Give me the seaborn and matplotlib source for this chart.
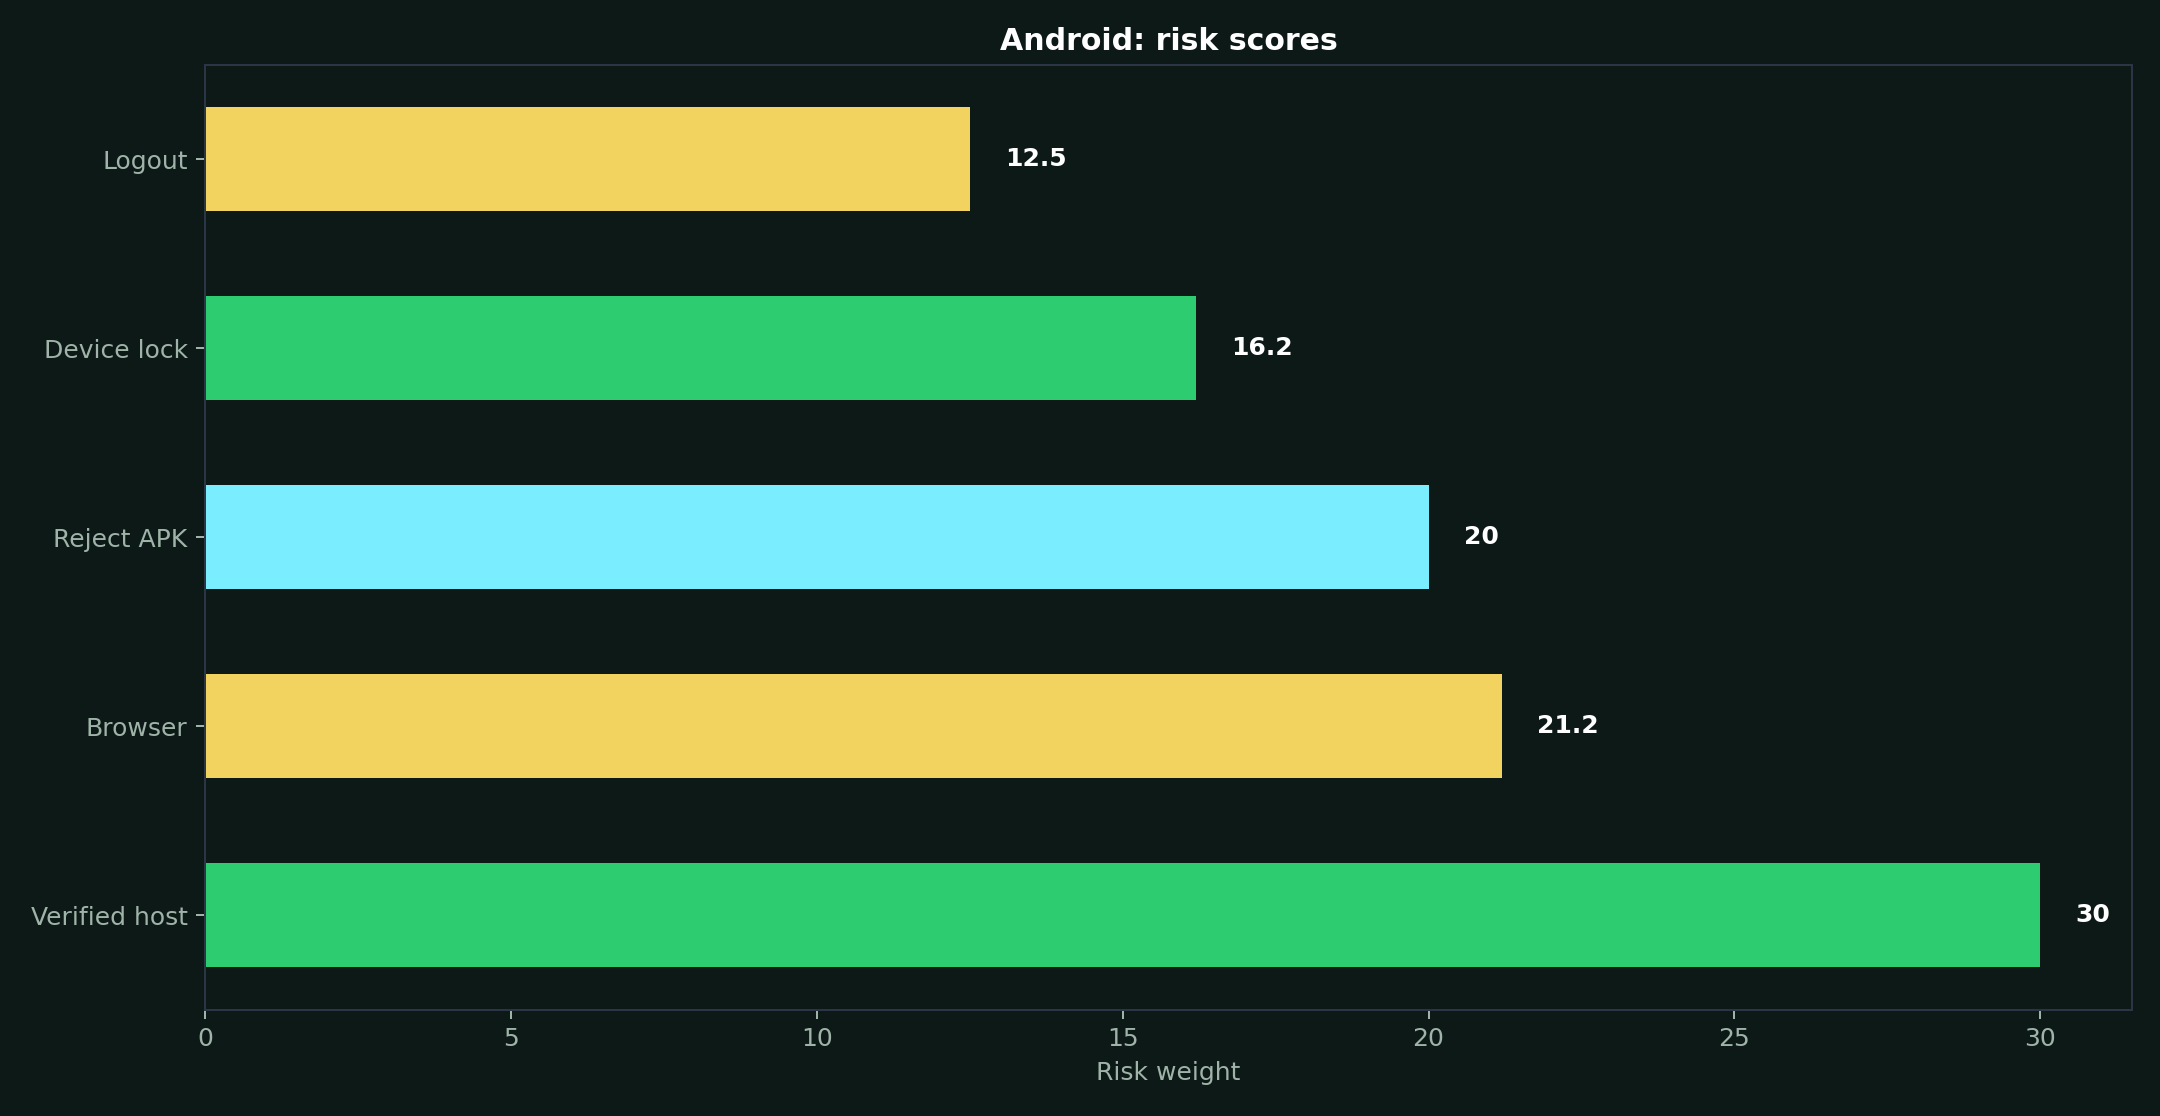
import matplotlib
matplotlib.use("Agg")
import matplotlib.pyplot as plt
import seaborn as sns
import pandas as pd

# Data
checks = ["Logout", "Device lock", "Reject APK", "Browser", "Verified host"]
scores = [12.5, 16.2, 20, 21.2, 30]
bar_colors = ["#f2d35f", "#2ecc71", "#7aeefe", "#f2d35f", "#2ecc71"]

bg = "#0c1917"
edge = "#2a3545"
muted = "#9fb3a8"

df = pd.DataFrame({"check": checks, "score": scores})

sns.set_theme(style="dark")
plt.rcParams["font.family"] = ["DejaVu Sans"]

fig, ax = plt.subplots(figsize=(12, 6.2), dpi=180)
fig.patch.set_facecolor(bg)
ax.set_facecolor(bg)

sns.barplot(data=df, x="score", y="check", hue="check", palette=bar_colors,
            order=checks, hue_order=checks, legend=False, width=0.55,
            saturation=1, orient="h", linewidth=0, ax=ax)

for c in ax.containers:
    ax.bar_label(c, labels=[f"{v:g}" for v in c.datavalues], padding=14,
                 color="white", fontweight="bold", fontsize=10)

ax.set_title("Android: risk scores", color="white", fontweight="bold", fontsize=12, pad=6)
ax.set_xlabel("Risk weight", color=muted, fontsize=10)
ax.set_ylabel("")
ax.tick_params(colors=muted, labelsize=10, length=3.5, width=0.8, left=True, bottom=True)
for s in ax.spines.values():
    s.set_visible(True)
    s.set_color(edge)
    s.set_linewidth(0.8)
ax.grid(False)

fig.subplots_adjust(left=0.095, right=0.987, top=0.942, bottom=0.095)
fig.savefig("out.png", dpi=180, facecolor=bg)
